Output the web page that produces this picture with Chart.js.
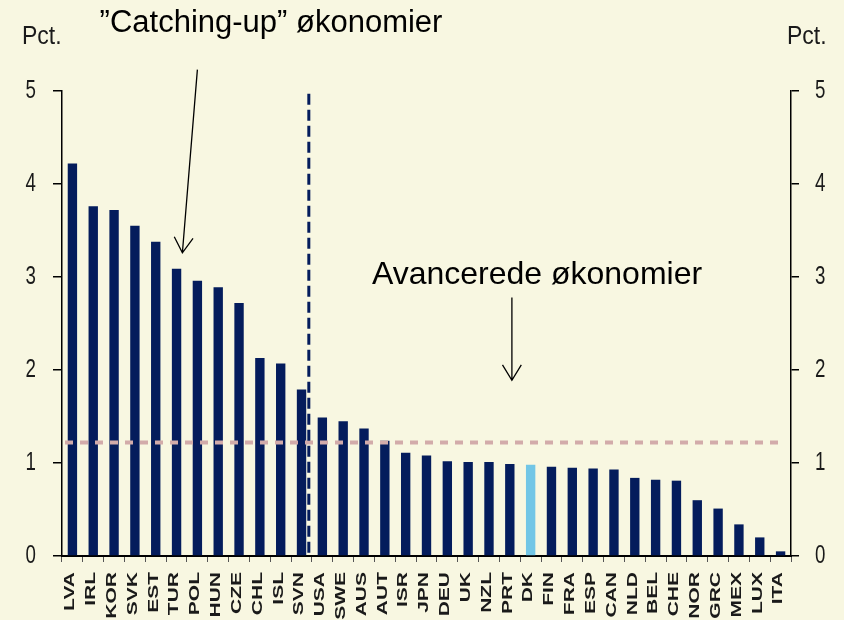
<!DOCTYPE html>
<html>
<head>
<meta charset="utf-8">
<script src="https://cdn.jsdelivr.net/npm/chart.js@4.4.1/dist/chart.umd.min.js"></script>
<style>
  html, body { margin: 0; padding: 0; background: #f8f7e1; }
  #wrap { width: 844px; height: 620px; }
</style>
</head>
<body>
<div id="wrap"><canvas id="chart" width="844" height="620"></canvas></div>
<script>
// --- Data ---
const countries = ['LVA', 'IRL', 'KOR', 'SVK', 'EST', 'TUR', 'POL', 'HUN', 'CZE', 'CHL', 'ISL', 'SVN',
  'USA', 'SWE', 'AUS', 'AUT', 'ISR', 'JPN', 'DEU', 'UK', 'NZL', 'PRT', 'DK', 'FIN', 'FRA', 'ESP',
  'CAN', 'NLD', 'BEL', 'CHE', 'NOR', 'GRC', 'MEX', 'LUX', 'ITA'];
const growth = [4.22, 3.76, 3.72, 3.55, 3.38, 3.09, 2.96, 2.89, 2.72, 2.13, 2.07, 1.79,
  1.49, 1.45, 1.37, 1.24, 1.11, 1.08, 1.02, 1.01, 1.01, 0.99, 0.98, 0.96, 0.95, 0.94,
  0.93, 0.84, 0.82, 0.81, 0.60, 0.51, 0.34, 0.20, 0.05];
const yTicks = [0, 1, 2, 3, 4, 5];
const highlight = 'DK';
const avgLevel = 1.22;          // stiplet gennemsnitslinje
const lastCatchingUp = 'SVN';   // skillelinje efter denne

// --- Farver ---
const BG = '#f8f7e1';
const NAVY = '#041c5c';
const LIGHT_BLUE = '#72c6e6';
const AVG_COLOR = '#d2abaa';
const FONT = "'Liberation Sans', Arial, sans-serif";

function catX(chart, idx) {
  const x = chart.scales.x;
  const p0 = x.getPixelForValue(0);
  const step = x.getPixelForValue(1) - p0;
  return p0 + idx * step;
}

function arrow(ctx, x1, y1, x2, y2) {
  ctx.beginPath();
  ctx.moveTo(x1, y1);
  ctx.lineTo(x2, y2);
  const ang = Math.atan2(y2 - y1, x2 - x1);
  const len = 18, spread = 0.55;
  ctx.moveTo(x2 - len * Math.cos(ang - spread), y2 - len * Math.sin(ang - spread));
  ctx.lineTo(x2, y2);
  ctx.lineTo(x2 - len * Math.cos(ang + spread), y2 - len * Math.sin(ang + spread));
  ctx.stroke();
}

const extras = {
  id: 'extras',
  beforeDraw(chart) {
    const ctx = chart.ctx;
    ctx.save();
    ctx.fillStyle = BG;
    ctx.fillRect(0, 0, chart.width, chart.height);
    ctx.restore();
  },
  afterDatasetsDraw(chart) {
    const ctx = chart.ctx;
    const area = chart.chartArea;
    const y = chart.scales.y;
    ctx.save();
    // gennemsnitslinje
    ctx.strokeStyle = AVG_COLOR;
    ctx.lineWidth = 4;
    ctx.setLineDash([8, 7]);
    ctx.beginPath();
    ctx.moveTo(area.left + 3, y.getPixelForValue(avgLevel));
    ctx.lineTo(catX(chart, countries.length - 1), y.getPixelForValue(avgLevel));
    ctx.stroke();
    // skillelinje
    const idx = countries.indexOf(lastCatchingUp) + 0.35;
    const xs = catX(chart, idx);
    ctx.strokeStyle = NAVY;
    ctx.lineWidth = 3;
    ctx.setLineDash([11, 5]);
    ctx.beginPath();
    ctx.moveTo(xs, y.getPixelForValue(4.97));
    ctx.lineTo(xs, area.bottom);
    ctx.stroke();
    ctx.restore();
  },
  afterDraw(chart) {
    const ctx = chart.ctx;
    const y = chart.scales.y;
    const area = chart.chartArea;
    ctx.save();
    ctx.fillStyle = '#1a1a1a';

    // y-akse labels (smalle)
    ctx.font = '26px ' + FONT;
    ctx.textBaseline = 'middle';
    yTicks.forEach(v => {
      const py = y.getPixelForValue(v);
      ctx.save();
      ctx.translate(36, py);
      ctx.scale(0.72, 1);
      ctx.textAlign = 'right';
      ctx.fillText(String(v), 0, 0);
      ctx.restore();
      ctx.save();
      ctx.translate(815, py);
      ctx.scale(0.72, 1);
      ctx.textAlign = 'left';
      ctx.fillText(String(v), 0, 0);
      ctx.restore();
    });

    // Pct.
    ctx.font = '25px ' + FONT;
    ctx.textBaseline = 'alphabetic';
    [22, 787].forEach(px => {
      ctx.save();
      ctx.translate(px, 44);
      ctx.scale(0.92, 1);
      ctx.textAlign = 'left';
      ctx.fillText('Pct.', 0, 0);
      ctx.restore();
    });

    // x-akse labels, lodrette
    ctx.font = 'bold 21px ' + FONT;
    ctx.textBaseline = 'middle';
    ctx.textAlign = 'right';
    countries.forEach((c, i) => {
      const px = catX(chart, i) - 2;
      ctx.save();
      ctx.translate(px, area.bottom + 16);
      ctx.rotate(-Math.PI / 2);
      ctx.scale(1, 0.66);
      ctx.fillText(c, 0, 0);
      ctx.restore();
    });

    // annoteringer
    ctx.fillStyle = '#000';
    ctx.textAlign = 'center';
    ctx.textBaseline = 'alphabetic';
    ctx.font = '31px ' + FONT;
    ctx.fillText('\u201DCatching-up\u201D økonomier', 271, 32);
    ctx.font = '32px ' + FONT;
    ctx.fillText('Avancerede økonomier', 537, 284);

    ctx.strokeStyle = '#000';
    ctx.lineWidth = 1.3;
    arrow(ctx, catX(chart, 6.0), y.getPixelForValue(5.23), catX(chart, 5.28), y.getPixelForValue(3.26));
    arrow(ctx, catX(chart, 21.1), y.getPixelForValue(2.78), catX(chart, 21.1), y.getPixelForValue(1.89));
    ctx.restore();
  }
};

const barColors = countries.map(c => c === highlight ? LIGHT_BLUE : NAVY);

new Chart(document.getElementById('chart'), {
  type: 'bar',
  data: {
    labels: countries,
    datasets: [{
      data: growth,
      backgroundColor: barColors,
      barPercentage: 0.45,
      categoryPercentage: 1,
      yAxisID: 'y',
    }],
  },
  options: {
    responsive: false,
    animation: false,
    devicePixelRatio: 1,
    layout: { padding: { top: 91, left: 0, right: 0, bottom: 0 } },
    plugins: { legend: { display: false }, tooltip: { enabled: false } },
    scales: {
      x: {
        offset: true,
        ticks: { display: false },
        grid: { offset: true, drawOnChartArea: false, tickLength: 6, color: '#555', lineWidth: 1 },
        border: { color: '#000', width: 2 },
        afterFit: s => { s.height = 64; },
      },
      y: {
        position: 'left',
        min: 0, max: 5,
        ticks: { display: false, stepSize: 1 },
        grid: { drawOnChartArea: false, tickLength: 9, color: '#000', lineWidth: 1.5 },
        border: { color: '#000', width: 1.5 },
        afterFit: s => { s.width = 62; },
      },
      y1: {
        position: 'right',
        min: 0, max: 5,
        ticks: { display: false, stepSize: 1 },
        grid: { drawOnChartArea: false, tickLength: 8, color: '#000', lineWidth: 1.5 },
        border: { color: '#000', width: 1.5 },
        afterFit: s => { s.width = 53; },
      },
    },
  },
  plugins: [extras],
});
</script>
</body>
</html>
